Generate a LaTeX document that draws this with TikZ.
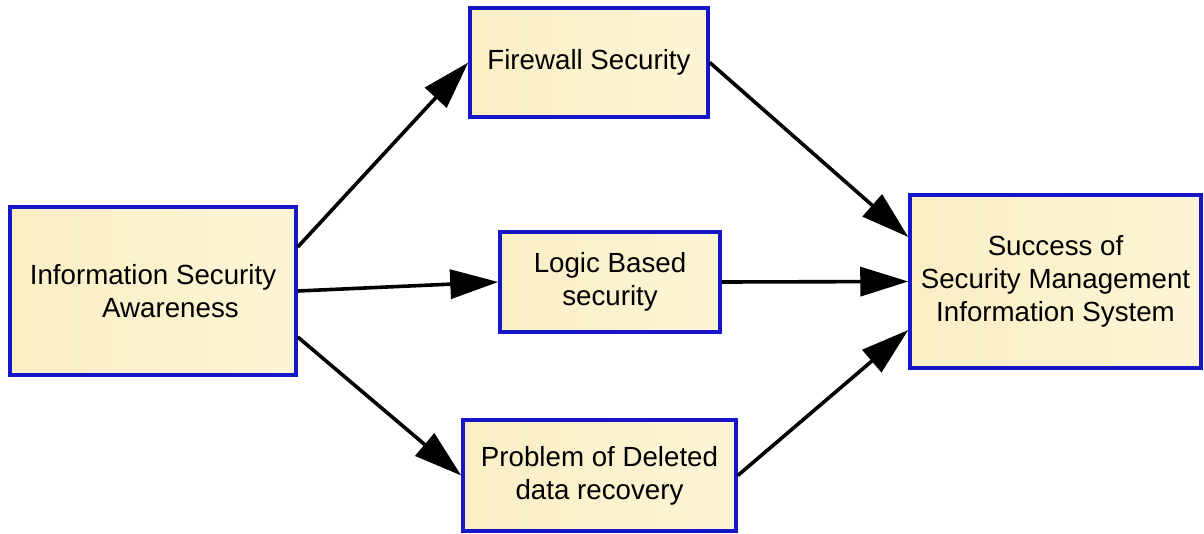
\documentclass[tikz,border=0pt]{standalone}
\usepackage{fontspec}
\setmainfont{Liberation Sans}
\usetikzlibrary{arrows.meta}
\definecolor{boxfill}{RGB}{250,238,196}
\definecolor{boxfilllight}{RGB}{252,245,214}
\definecolor{boxline}{RGB}{22,22,200}
\tikzset{
  box/.style={draw=boxline, line width=3.5pt, left color=boxfill, right color=boxfilllight,
    rectangle, inner sep=0pt, align=center, font=\fontsize{27.7}{33}\selectfont},
  link/.style={line width=3.6pt, -{Triangle[length=48pt,width=29pt]}}
}
\begin{document}
\begin{tikzpicture}[x=1pt,y=-1pt]
\useasboundingbox (0,0) rectangle (1204,533);
\node[box, minimum width=286pt, minimum height=168pt] (A) at (153,291)
  {Information Security\\\hspace*{35pt}Awareness};
\node[box, minimum width=238pt, minimum height=109pt] (F) at (589,62.5)
  {Firewall Security};
\node[box, minimum width=220pt, minimum height=100pt] (L) at (610,282)
  {Logic Based\\security};
\node[box, minimum width=273pt, minimum height=111pt] (P) at (599.5,475.5)
  {Problem of Deleted\\data recovery};
\node[box, minimum width=291pt, minimum height=173pt] (S) at (1055.5,281.5)
  {Success of\\Security Management\\Information System};

\draw[link] ([yshift=44pt]A.east) -- (F.west);
\draw[link] (A.east) -- (L.west);
\draw[link] ([yshift=-46pt]A.east) -- (P.west);
\draw[link] (F.east) -- ([yshift=44.5pt]S.west);
\draw[link] (L.east) -- (S.west);
\draw[link] (P.east) -- ([yshift=-48.5pt]S.west);
\end{tikzpicture}
\end{document}
